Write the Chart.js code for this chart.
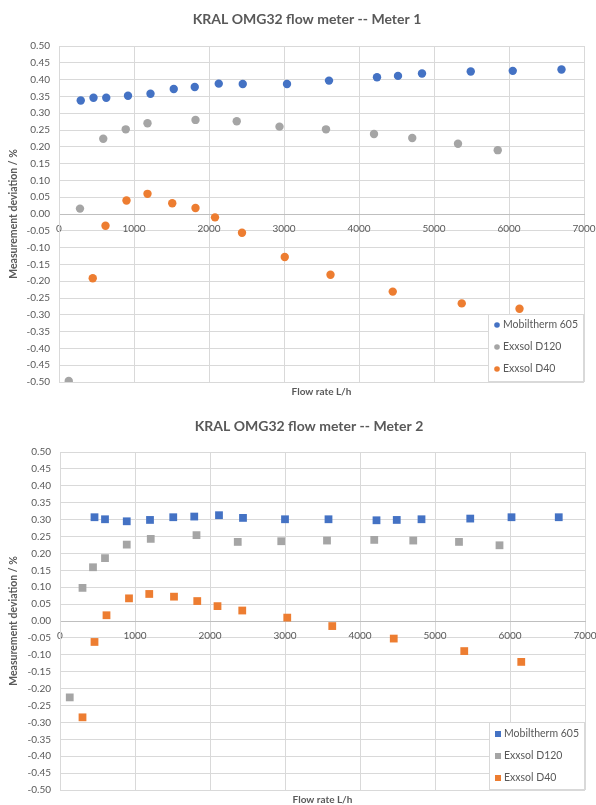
<!DOCTYPE html>
<html><head><meta charset="utf-8">
<script src="https://cdn.jsdelivr.net/npm/chart.js"></script>
<style>
html,body{margin:0;padding:0;background:#fff;}
#w1{position:absolute;left:0;top:0;width:596px;height:400px;}
#w2{position:absolute;left:0;top:400px;width:596px;height:405px;}
</style></head><body>
<div id="w1"><canvas id="c1"></canvas></div>
<div id="w2"><canvas id="c2"></canvas></div>
<script>
// ---- Data ----
const seriesNames = ['Mobiltherm 605', 'Exxsol D120', 'Exxsol D40'];
const seriesColors = ['#4472C4', '#A5A5A5', '#ED7D31'];
const chartTitles = ['KRAL OMG32 flow meter -- Meter 1', 'KRAL OMG32 flow meter -- Meter 2'];
const xAxisTitle = 'Flow rate L/h';
const yAxisTitle = 'Measurement deviation / %';
const xTicks = [0, 1000, 2000, 3000, 4000, 5000, 6000, 7000];
const yTicks = [0.50, 0.45, 0.40, 0.35, 0.30, 0.25, 0.20, 0.15, 0.10, 0.05, 0.00, -0.05, -0.10, -0.15, -0.20, -0.25, -0.30, -0.35, -0.40, -0.45, -0.50];

// Meter 1
const m1MobFlow = [290, 460, 630, 920, 1220, 1530, 1810, 2130, 2450, 3040, 3600, 4240, 4520, 4840, 5490, 6050, 6700];
const m1MobDev  = [0.338, 0.346, 0.346, 0.352, 0.358, 0.372, 0.378, 0.388, 0.387, 0.387, 0.397, 0.407, 0.411, 0.418, 0.424, 0.426, 0.430];
const m1D120Flow = [130, 280, 590, 890, 1180, 1820, 2370, 2940, 3560, 4200, 4710, 5320, 5850];
const m1D120Dev  = [-0.497, 0.016, 0.224, 0.252, 0.270, 0.280, 0.276, 0.260, 0.252, 0.238, 0.226, 0.209, 0.190];
const m1D40Flow = [450, 620, 900, 1180, 1510, 1820, 2080, 2440, 3010, 3620, 4450, 5370, 6140];
const m1D40Dev  = [-0.191, -0.035, 0.040, 0.060, 0.032, 0.018, -0.010, -0.056, -0.128, -0.181, -0.231, -0.266, -0.282];

// Meter 2
const m2MobFlow = [460, 600, 890, 1200, 1510, 1790, 2120, 2440, 3000, 3580, 4220, 4490, 4820, 5470, 6020, 6650];
const m2MobDev  = [0.307, 0.301, 0.295, 0.299, 0.307, 0.309, 0.313, 0.305, 0.301, 0.301, 0.298, 0.299, 0.301, 0.303, 0.307, 0.307];
const m2D120Flow = [130, 300, 440, 600, 890, 1210, 1820, 2370, 2950, 3560, 4190, 4710, 5320, 5860];
const m2D120Dev  = [-0.226, 0.098, 0.159, 0.186, 0.226, 0.243, 0.254, 0.234, 0.236, 0.238, 0.240, 0.238, 0.234, 0.224];
const m2D40Flow = [300, 460, 620, 920, 1190, 1520, 1830, 2100, 2430, 3030, 3630, 4450, 5390, 6150];
const m2D40Dev  = [-0.285, -0.062, 0.017, 0.067, 0.080, 0.072, 0.059, 0.044, 0.031, 0.010, -0.015, -0.052, -0.089, -0.121];

// ---- Helpers ----
const pts = (xs, ys) => xs.map((x, i) => ({x: x, y: ys[i]}));
const TXT = '#595959';
const FONT = 'Lato';

const extras = {
  id: 'extras',
  afterDraw(chart, args, o) {
    const ctx = chart.ctx, ca = chart.chartArea;
    ctx.save();
    ctx.fillStyle = TXT;
    ctx.textAlign = 'center';
    ctx.textBaseline = 'middle';
    ctx.font = 'bold 14px ' + FONT;
    ctx.fillText(o.title, o.titleX, o.titleY);
    ctx.font = 'bold 10px ' + FONT;
    ctx.fillText(xAxisTitle, (ca.left + ca.right) / 2, o.xTitleY);
    // legend box
    const w = 96, h = 68;
    const lx = Math.round(ca.right - w), ly = Math.round(ca.bottom - h);
    ctx.fillStyle = '#fff';
    ctx.fillRect(lx, ly, w, h);
    ctx.strokeStyle = '#D9D9D9';
    ctx.lineWidth = 1;
    ctx.strokeRect(lx + 0.5, ly + 0.5, w - 1, h - 1);
    ctx.font = '10.5px ' + FONT;
    ctx.textAlign = 'left';
    chart.data.datasets.forEach((ds, i) => {
      const y = ly + o.legendFirst + i * 22;
      const mx = lx + 9;
      ctx.fillStyle = ds.backgroundColor;
      if (o.marker === 'rect') {
        ctx.fillRect(mx - 3, y - 3, 6, 6);
      } else {
        ctx.beginPath(); ctx.arc(mx, y, 2.8, 0, Math.PI * 2); ctx.fill();
      }
      ctx.fillStyle = TXT;
      ctx.fillText(ds.label, lx + 15, y);
    });
    ctx.restore();
  }
};

function makeChart(id, title, sets, style, radius, o) {
  const datasets = sets.map((s, i) => ({
    label: seriesNames[i],
    data: pts(s[0], s[1]),
    backgroundColor: seriesColors[i],
    borderColor: seriesColors[i],
    borderWidth: 0,
    pointStyle: style,
    pointRadius: radius,
    showLine: false
  }));
  return new Chart(document.getElementById(id), {
    type: 'scatter',
    data: {datasets},
    plugins: [extras],
    options: {
      responsive: true,
      maintainAspectRatio: false,
      animation: false,
      devicePixelRatio: 1,
      events: [],
      layout: {padding: o.padding},
      plugins: {
        legend: {display: false},
        tooltip: {enabled: false},
        title: {display: false},
        extras: Object.assign({title: title}, o)
      },
      scales: {
        x: {
          type: 'linear',
          position: {y: 0},
          min: 0, max: 7000,
          afterBuildTicks: s => { s.ticks = xTicks.map(v => ({value: v})); },
          afterFit: s => { s.paddingRight = 0; s.paddingLeft = 0; },
          ticks: {color: TXT, font: {family: FONT, size: 10}, padding: 9, maxRotation: 0, autoSkip: false,
                  callback: v => String(v)},
          grid: {color: '#D9D9D9', drawTicks: false},
          border: {color: '#BFBFBF', width: 1}
        },
        y: {
          type: 'linear',
          position: 'left',
          min: -0.5, max: 0.5,
          afterBuildTicks: s => { s.ticks = yTicks.map(v => ({value: v})); },
          afterFit: s => { s.width = o.yWidth; },
          ticks: {color: TXT, font: {family: FONT, size: 10}, padding: 9, autoSkip: false,
                  callback: v => Number(v).toFixed(2)},
          grid: {color: '#D9D9D9', drawTicks: false},
          border: {color: '#D9D9D9', width: 1},
          title: {display: true, text: yAxisTitle, color: TXT,
                  font: {family: FONT, size: 10.5, weight: 'bold'}, padding: {top: 7, bottom: 0}}
        }
      }
    }
  });
}

makeChart('c1', chartTitles[0],
  [[m1MobFlow, m1MobDev], [m1D120Flow, m1D120Dev], [m1D40Flow, m1D40Dev]],
  'circle', 4.2,
  {padding: {left: 0, right: 12, top: 46, bottom: 18}, yWidth: 59,
   titleX: 307, titleY: 19, xTitleY: 392, legendFirst: 11, marker: 'circle'});

makeChart('c2', chartTitles[1],
  [[m2MobFlow, m2MobDev], [m2D120Flow, m2D120Dev], [m2D40Flow, m2D40Dev]],
  'rect', 5.5,
  {padding: {left: 0, right: 11, top: 52, bottom: 14}, yWidth: 60,
   titleX: 309, titleY: 26, xTitleY: 400, legendFirst: 12, marker: 'rect'});
</script>
</body></html>
